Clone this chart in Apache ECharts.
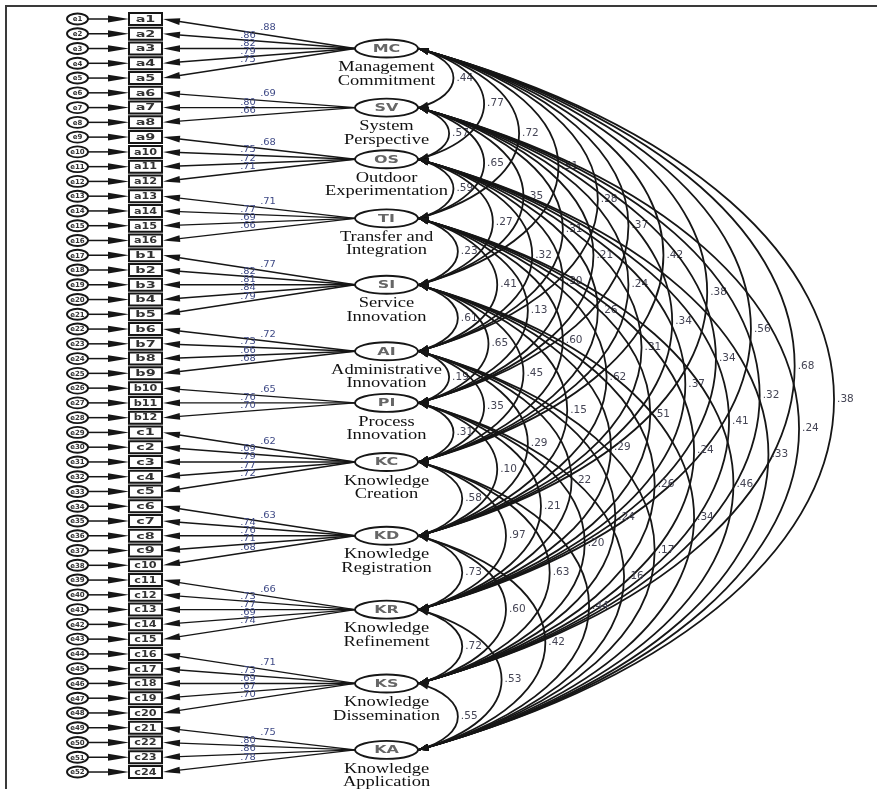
<!DOCTYPE html>
<html><head><meta charset="utf-8">
<script src="https://cdn.jsdelivr.net/npm/echarts@6/dist/echarts.min.js"></script>
<style>html,body{margin:0;padding:0;background:#fff}#c{width:877px;height:789px}</style>
</head><body><div id="c"></div>
<script>
// ---------------- DATA ----------------
const latentCodes = ['MC','SV','OS','TI','SI','AI','PI','KC','KD','KR','KS','KA'];
const latentNames = [
  ['Management','Commitment'],['System','Perspective'],['Outdoor','Experimentation'],
  ['Transfer and','Integration'],['Service','Innovation'],['Administrative','Innovation'],
  ['Process','Innovation'],['Knowledge','Creation'],['Knowledge','Registration'],
  ['Knowledge','Refinement'],['Knowledge','Dissemination'],['Knowledge','Application']
];
const groupSizes = [5,3,4,4,5,4,3,5,5,5,5,4];
const indicatorLabels = [
  'a1','a2','a3','a4','a5','a6','a7','a8','a9','a10','a11','a12','a13','a14','a15','a16',
  'b1','b2','b3','b4','b5','b6','b7','b8','b9','b10','b11','b12',
  'c1','c2','c3','c4','c5','c6','c7','c8','c9','c10','c11','c12',
  'c13','c14','c15','c16','c17','c18','c19','c20','c21','c22','c23','c24'
];
const errorLabels = indicatorLabels.map((_, i) => 'e' + (i + 1));
const loadings = [
  [.88,.86,.82,.79,.75],
  [.69,.80,.66],
  [.68,.75,.72,.71],
  [.71,.77,.69,.66],
  [.77,.82,.81,.84,.79],
  [.72,.73,.66,.68],
  [.65,.76,.70],
  [.62,.69,.79,.77,.72],
  [.63,.74,.76,.71,.68],
  [.66,.73,.77,.69,.74],
  [.71,.73,.69,.67,.70],
  [.75,.80,.86,.78]
];
// correlations[i] = correlations of latent i with latents i+1 ... 11
const correlations = [
  [.44,.77,.72,.51,.28,.37,.42,.38,.56,.68,.38],
  [.57,.65,.35,.31,.21,.24,.34,.34,.32,.24],
  [.59,.27,.32,.30,.26,.31,.37,.41,.33],
  [.23,.41,.13,.60,.62,.51,.24,.46],
  [.61,.65,.45,.15,.29,.26,.34],
  [.19,.35,.29,.22,.24,.17],
  [.31,.10,.21,.20,.16],
  [.58,.97,.63,.44],
  [.73,.60,.42],
  [.72,.53],
  [.55]
];

// ---------------- LAYOUT ----------------
const indRows = [], indGroup = [], indPos = [], latRows = [];
(function(){
  let r = 0;
  groupSizes.forEach((n, g) => {
    for (let k = 0; k < n; k++) { indRows.push(r + k); indGroup.push(g); indPos.push(k); }
    latRows.push(r + (n - 1) / 2);
    r += n;
  });
})();
const covPairs = [];
correlations.forEach((row, i) => row.forEach((v, jj) => covPairs.push([i, i + 1 + jj, v])));

const ROW0 = 19, ROWSTEP = 14.765, H = 789;
const yMin = -ROW0 / ROWSTEP, yMax = yMin + H / ROWSTEP;
const X_ERR = 77.5, ERR_RX = 10.5, ERR_RY = 5.5;
const X_BOX = 145.5, BOX_W = 33, BOX_H = 12;
const X_LAT = 386.5, LAT_RX = 31.5, LAT_RY = 9;
const fmt = v => v.toFixed(2).replace(/^0/, '');
const INK = '#161616';

function arrow(tx, ty, dx, dy, len, hw, color) {
  const l = Math.hypot(dx, dy); dx /= l; dy /= l;
  const bx = tx + dx * len, by = ty + dy * len;
  return { type: 'polygon', shape: { points: [[tx, ty], [bx - dy * hw, by + dx * hw], [bx + dy * hw, by - dx * hw]] },
    style: { fill: color || INK } };
}
function txt(x, y, text, font, fill, sx, align) {
  return { type: 'text', x: x, y: y, scaleX: sx || 1,
    style: { text: text, x: 0, y: 0, font: font, fill: fill,
      align: align || 'center', verticalAlign: 'middle', textAlign: align || 'center', textVerticalAlign: 'middle' } };
}

function renderIndicator(params, api) {
  const i = api.value(0);
  const row = indRows[i], g = indGroup[i], k = indPos[i];
  const pe = api.coord([X_ERR, row]);
  const pb = api.coord([X_BOX, row]);
  const pl = api.coord([X_LAT - LAT_RX, latRows[g]]);
  const y = pb[1];
  const bl = pb[0] - BOX_W / 2, br = pb[0] + BOX_W / 2;
  const ch = [];
  ch.push({ type: 'ellipse', shape: { cx: pe[0], cy: y, rx: ERR_RX, ry: ERR_RY }, style: { fill: '#fff', stroke: INK, lineWidth: 1.9 } });
  ch.push(txt(pe[0], y + 0.5, errorLabels[i], 'bold 7px "DejaVu Sans"', '#333', 1));
  ch.push({ type: 'line', shape: { x1: pe[0] + ERR_RX, y1: y, x2: bl - 18, y2: y }, style: { stroke: INK, lineWidth: 1.5 } });
  ch.push(arrow(bl, y, -1, 0, 21, 3.4));
  ch.push({ type: 'rect', shape: { x: bl, y: y - BOX_H / 2, width: BOX_W, height: BOX_H }, style: { fill: '#fff', stroke: INK, lineWidth: 2 } });
  const lab = indicatorLabels[i];
  ch.push(txt(pb[0], y + 0.5, lab, 'bold 9px "DejaVu Sans"', '#333', lab.length > 2 ? 1.25 : 1.6));
  const tipx = br + 1;
  ch.push({ type: 'line', shape: { x1: pl[0], y1: pl[1], x2: tipx + 10, y2: y + (pl[1] - y) * 10 / (pl[0] - tipx) }, style: { stroke: INK, lineWidth: 1.4 } });
  ch.push(arrow(tipx, y, pl[0] - tipx, pl[1] - y, 17, 3.4));
  const lx = k === 0 ? 268 : 248;
  const ly = y + (lx - tipx) / (pl[0] - tipx) * (pl[1] - y) + (k === 0 ? -7 : -5);
  ch.push(txt(lx, ly, fmt(loadings[g][k]), '9px "DejaVu Sans"', '#3f4a86', 1.1));
  return { type: 'group', children: ch };
}

function renderLatent(params, api) {
  const g = api.value(0);
  const p = api.coord([X_LAT, latRows[g]]);
  const ch = [];
  ch.push({ type: 'ellipse', shape: { cx: p[0], cy: p[1], rx: LAT_RX, ry: LAT_RY }, style: { fill: '#fff', stroke: INK, lineWidth: 1.9 } });
  ch.push(txt(p[0], p[1] + 0.5, latentCodes[g], 'bold 11px "DejaVu Sans"', '#666', 1.45));
  ch.push(txt(p[0], p[1] + 19, latentNames[g][0], '14px "Liberation Serif"', '#111', 1.32));
  ch.push(txt(p[0], p[1] + 32.5, latentNames[g][1], '14px "Liberation Serif"', '#111', 1.32));
  return { type: 'group', children: ch };
}

function renderCov(params, api) {
  const i = api.value(0), j = api.value(1), v = api.value(2);
  const a = api.coord([X_LAT + LAT_RX + 0.5, latRows[i]]);
  const b = api.coord([X_LAT + LAT_RX + 0.5, latRows[j]]);
  const span = b[1] - a[1];
  const kx = 0.79 * span, my = 0.22 * span;
  const ch = [];
  ch.push({ type: 'bezierCurve', shape: { x1: a[0], y1: a[1], cpx1: a[0] + kx, cpy1: a[1] + my, cpx2: b[0] + kx, cpy2: b[1] - my, x2: b[0], y2: b[1] },
    style: { stroke: INK, lineWidth: 1.8, fill: null } });
  ch.push(arrow(a[0], a[1], kx, my, 10, 3.4));
  ch.push(arrow(b[0], b[1], kx, -my, 10, 3.4));
  const ax = a[0] + 0.75 * kx, ay = (a[1] + b[1]) / 2;
  ch.push(txt(ax + 3, ay, fmt(v), '10px "DejaVu Sans"', '#454555', 1.05, 'left'));
  return { type: 'group', children: ch };
}

const chart = echarts.init(document.getElementById('c'), null, { renderer: 'canvas' });
chart.setOption({
  animation: false,
  backgroundColor: '#fff',
  grid: { left: 0, right: 0, top: 0, bottom: 0 },
  xAxis: { type: 'value', min: 0, max: 877, show: false },
  yAxis: { type: 'value', min: yMin, max: yMax, inverse: true, show: false },
  graphic: [
    { type: 'line', shape: { x1: 5, y1: 6, x2: 877, y2: 6 }, style: { stroke: '#3a3a3a', lineWidth: 2 } },
    { type: 'line', shape: { x1: 6, y1: 5, x2: 6, y2: 789 }, style: { stroke: '#3a3a3a', lineWidth: 2 } }
  ],
  series: [
    { type: 'custom', name: 'covariances', z: 2, silent: true, clip: false, renderItem: renderCov,
      data: covPairs, encode: { x: 0, y: 1 } },
    { type: 'custom', name: 'indicators', z: 3, silent: true, clip: false, renderItem: renderIndicator,
      data: indicatorLabels.map((_, i) => [i, indRows[i]]), encode: { x: 0, y: 1 } },
    { type: 'custom', name: 'latents', z: 4, silent: true, clip: false, renderItem: renderLatent,
      data: latentCodes.map((_, g) => [g, latRows[g]]), encode: { x: 0, y: 1 } }
  ]
});
</script></body></html>
